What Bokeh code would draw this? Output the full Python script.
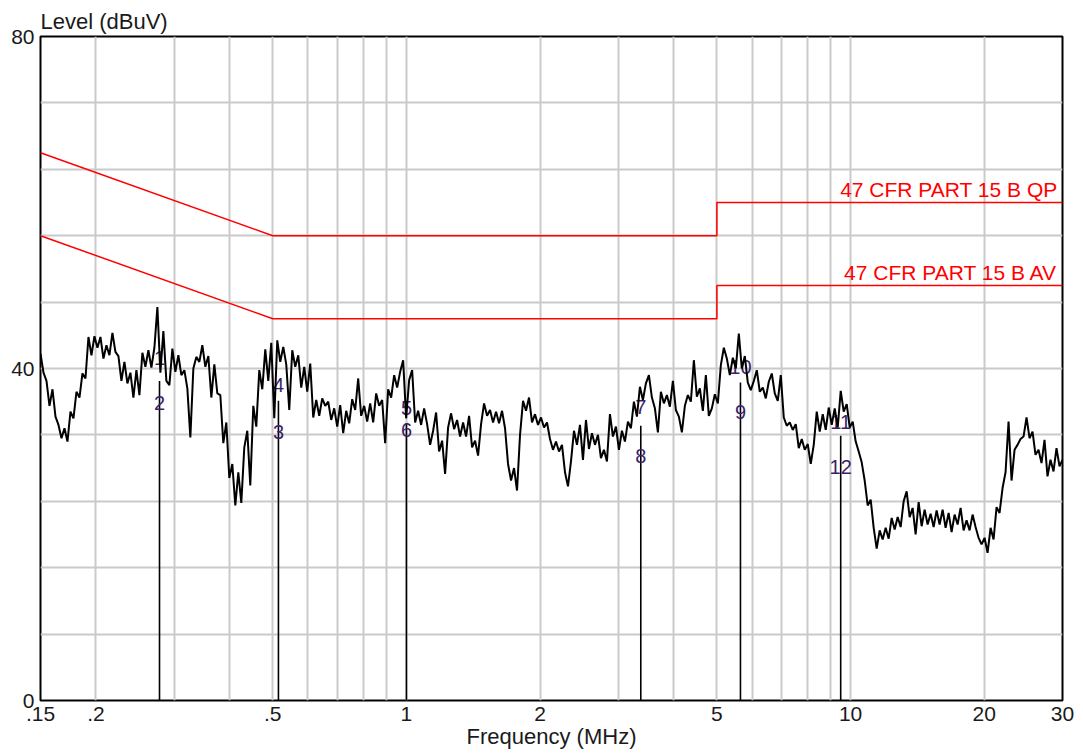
import numpy as np
from bokeh.plotting import figure
from bokeh.models import Range1d, FixedTicker
from bokeh.core.properties import value
from bokeh.embed import file_html
from bokeh.resources import INLINE

# ---------------- data ----------------
x_tick_values = [0.15, 0.2, 0.5, 1, 2, 5, 10, 20, 30]
x_tick_labels = [".15", ".2", ".5", "1", "2", "5", "10", "20", "30"]
grid_freqs = [0.2, 0.3, 0.4, 0.5, 0.6, 0.7, 0.8, 0.9, 1, 2, 3, 4, 5, 6, 7, 8, 9, 10, 20, 30]
y_grid_values = [0, 8, 16, 24, 32, 40, 48, 56, 64, 72, 80]
y_tick_values = [0, 40, 80]
x_title = "Frequency (MHz)"
y_title = "Level (dBuV)"

qp_freq = [0.15, 0.5, 0.5, 5, 5, 30]
qp_level = [66, 56, 56, 56, 60, 60]
av_freq = [0.15, 0.5, 0.5, 5, 5, 30]
av_level = [56, 46, 46, 46, 50, 50]
limit_names = ["47 CFR PART 15 B QP", "47 CFR PART 15 B AV"]

marker_freq = [0.278, 0.515, 1.0, 3.37, 5.65, 9.5]
marker_top = [38.5, 36.1, 33.4, 33.1, 38.3, 31.9]

label_text = ["1", "2", "3", "4", "5", "6", "7", "8", "9", "10", "11", "12"]
label_freq = [0.278, 0.278, 0.515, 0.515, 1.0, 1.0, 3.37, 3.37, 5.65, 5.65, 9.5, 9.5]
label_level = [41.3, 35.9, 32.3, 38.0, 35.2, 32.6, 35.4, 29.5, 34.8, 40.2, 33.5, 28.1]

# measured trace (dBuV), sweep points log-spaced from 0.15 to 30 MHz
level = [
    41.8, 39.5, 38.5, 35.5, 37.5, 34.2, 33.2, 31.6, 32.8, 31.2,
    34.8, 34.0, 37.2, 36.5, 39.4, 38.8, 43.8, 41.6, 43.9, 42.5,
    43.8, 41.2, 42.8, 41.6, 44.3, 42.0, 41.5, 38.5, 40.8, 38.2,
    39.5, 36.5, 39.8, 36.8, 41.9, 40.2, 42.2, 40.1, 42.5, 47.4,
    39.5, 44.5, 38.5, 38.0, 42.4, 39.6, 41.6, 39.2, 39.8, 37.6,
    31.7, 40.0, 41.4, 40.8, 42.8, 40.2, 41.5, 36.5,
    40.5, 37.0, 36.8, 31.0, 33.5, 26.8, 28.5, 23.5, 27.5, 23.8,
    30.5, 32.5, 25.9, 35.5, 33.0, 39.8, 37.5, 42.3, 38.5, 43.1,
    34.0, 43.4, 40.8, 42.6, 40.5, 35.0, 42.2, 40.2, 41.6, 37.7,
    40.2, 37.2, 40.6, 34.1, 36.2, 34.3, 36.4, 35.5, 36.0, 33.8,
    35.2, 33.0, 35.6, 32.2, 34.9, 33.4, 36.3, 35.0, 38.8, 34.3,
    35.5, 33.6, 35.8, 33.5, 37.0, 35.5, 36.2, 31.0,
    37.5, 36.5, 39.2, 37.7, 39.6, 41.0, 34.0, 38.6, 39.8, 33.5,
    34.9, 33.2, 35.2, 33.3, 30.8, 32.5, 34.7, 30.0, 31.3, 27.3,
    32.9, 34.6, 32.7, 33.8, 31.8, 33.5, 31.8, 34.3, 30.5, 31.3,
    29.5, 33.3, 35.8, 34.3, 35.0, 33.5, 34.8, 33.4, 34.9, 32.8,
    28.5, 26.5, 28.0, 25.3, 32.0, 36.1, 34.9, 36.5, 33.5, 34.5,
    33.2, 34.1, 32.9, 33.5, 31.5,
    30.2, 31.2, 30.0, 30.8, 27.5, 25.8, 28.8, 32.5, 30.8, 33.2,
    29.0, 33.8, 30.3, 32.2, 30.8, 32.0, 29.2, 30.2, 28.8, 34.5,
    31.8, 33.0, 30.2, 32.5, 31.2, 33.6, 32.8, 36.0, 34.2, 37.8,
    36.2, 38.2, 39.2, 36.5, 35.2, 32.3, 37.2, 35.8, 36.8, 35.4,
    38.5, 35.0, 34.2, 32.3, 35.5, 36.8, 36.0, 41.0, 36.6, 37.6,
    34.9, 39.2, 34.3, 35.2, 36.9, 35.8, 40.4, 42.5,
    41.2, 39.2, 41.3, 40.0, 44.2, 40.0, 41.5, 38.3, 37.4, 38.5,
    39.8, 37.2, 37.7, 36.4, 38.4, 39.4, 37.0, 36.1, 39.2, 34.1,
    33.1, 33.5, 32.6, 33.3, 30.4, 31.5, 30.2, 30.9, 28.5, 30.8,
    34.8, 32.4, 34.5, 32.6, 35.3, 33.2, 35.2, 32.9, 37.3, 34.8,
    35.7, 32.9, 33.6, 31.2, 30.0, 28.7, 26.5, 23.5, 24.2, 20.8,
    18.3, 20.5, 19.4, 20.8, 19.5, 22.0,
    20.6, 22.1, 20.9, 24.0, 25.2, 22.1, 23.2, 20.0, 23.9, 21.0,
    23.0, 21.2, 22.5, 20.9, 22.9, 21.2, 23.0, 20.8, 22.6, 20.3,
    22.4, 21.2, 23.2, 20.5, 21.7, 20.5, 22.4, 20.9, 19.6, 18.8,
    19.6, 17.8, 20.8, 19.4, 23.3, 22.6, 25.6, 27.5, 33.6, 26.5,
    30.2, 30.8, 31.5, 31.8, 34.1, 31.6, 32.4, 29.6, 30.2, 28.6,
    31.4, 27.0, 29.0, 27.6, 30.4, 28.2, 29.0,
]
freq = np.geomspace(0.15, 30, len(level))

FONT = "Liberation Sans"
TXT = "#1a1a1a"

p = figure(width=1080, height=755, x_axis_type="log",
           x_range=Range1d(0.15, 30), y_range=Range1d(0, 80),
           output_backend="svg", toolbar_location=None,
           title=y_title,
           min_border_left=40, min_border_right=18,
           min_border_top=36, min_border_bottom=55)

p.title.align = "left"
p.title.text_font = FONT
p.title.text_font_size = "22px"
p.title.text_font_style = "normal"
p.title.text_color = TXT
p.title.standoff = 5

p.background_fill_color = "white"
p.border_fill_color = "white"
p.outline_line_color = "black"
p.outline_line_width = 2

# x axis
p.xaxis.ticker = FixedTicker(ticks=x_tick_values)
p.xaxis.major_label_overrides = {v: l for v, l in zip(x_tick_values, x_tick_labels)}
p.xaxis.major_label_standoff = 6
p.xaxis.axis_label = x_title
p.xaxis.axis_label_text_font = FONT
p.xaxis.axis_label_text_font_size = "22px"
p.xaxis.axis_label_text_font_style = "normal"
p.xaxis.axis_label_text_color = TXT
p.xaxis.axis_label_standoff = 0

# y axis
p.yaxis.ticker = FixedTicker(ticks=y_tick_values)
p.yaxis.major_label_standoff = 6

for ax in (p.xaxis, p.yaxis):
    ax.axis_line_color = None
    ax.major_tick_line_color = None
    ax.minor_tick_line_color = None
    ax.major_tick_out = 0
    ax.major_tick_in = 0
    ax.major_label_text_font = FONT
    ax.major_label_text_font_size = "21px"
    ax.major_label_text_color = TXT

p.xgrid.ticker = FixedTicker(ticks=grid_freqs)
p.ygrid.ticker = FixedTicker(ticks=y_grid_values)
for g in (p.xgrid, p.ygrid):
    g.grid_line_color = "#cacaca"
    g.grid_line_width = 2

# limit lines
p.line(qp_freq, qp_level, line_color="#ff0000", line_width=1.5)
p.line(av_freq, av_level, line_color="#ff0000", line_width=1.5)
p.text(x=[qp_freq[-1] * 0.975, av_freq[-1] * 0.975],
       y=[qp_level[-1] + 0.2, av_level[-1] + 0.2],
       text=limit_names, text_align="right", text_baseline="bottom",
       text_color="#ff0000", text_font=value(FONT), text_font_size="21px")

# marker lines
p.segment(x0=marker_freq, y0=[0] * len(marker_freq), x1=marker_freq, y1=marker_top,
          line_color="black", line_width=1.6)

# marker labels
p.text(x=label_freq, y=label_level, text=label_text, text_align="center",
       text_baseline="middle", text_color="#3b1f6b", text_font=value(FONT),
       text_font_size="20px")

# trace
p.line(freq, level, line_color="black", line_width=2)

open("out.html", "w").write(file_html(p, INLINE))
